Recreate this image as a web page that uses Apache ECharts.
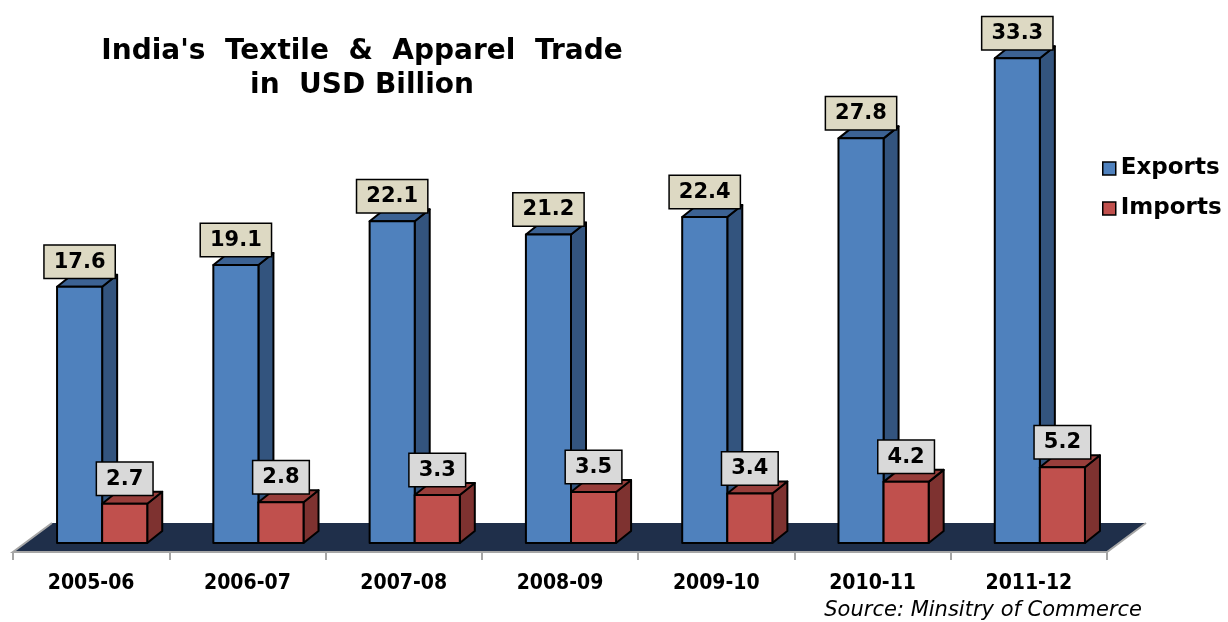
<!DOCTYPE html>
<html>
<head>
<meta charset="utf-8">
<script src="https://cdn.jsdelivr.net/npm/echarts@6/dist/echarts.min.js"></script>
<style>
  html, body { margin: 0; padding: 0; background: #ffffff; }
  #chart { width: 1228px; height: 622px; }
</style>
</head>
<body>
<div id="chart"></div>
<script>
// Fiscal years and trade values (USD billion)
const years = ['2005-06', '2006-07', '2007-08', '2008-09', '2009-10', '2010-11', '2011-12'];
const exportsBn = [17.6, 19.1, 22.1, 21.2, 22.4, 27.8, 33.3];
const importsBn = [2.7, 2.8, 3.3, 3.5, 3.4, 4.2, 5.2];

// Pseudo-3D geometry (pixels)
const BAR_FRACTION = 0.2885;  // bar width as share of a category band
const SHIFT_X = 11, SHIFT_Y = 9;   // bars stand a little behind the floor's front edge
const DEPTH_X = 15, DEPTH_Y = 12;  // bar depth
const FLOOR_DX = 39, FLOOR_DY = 29; // floor depth
const LABEL_GAP = 9;

const palettes = {
  Exports: { front: '#4f81bd', side: '#33547e', top: '#3c6293', label: '#ddd9c3' },
  Imports: { front: '#c0504d', side: '#7e3230', top: '#983e3b', label: '#d9d9d9' }
};

function barRenderer(slot, pal) {
  return function (params, api) {
    const i = api.value(0);
    const v = api.value(1);
    const band = api.size([1, 0])[0];
    const w = band * BAR_FRACTION;
    const base = api.coord([i, 0]);
    const top = api.coord([i, v]);
    const x0 = base[0] + SHIFT_X - (slot === 0 ? w : 0);
    const x1 = x0 + w;
    const yb = base[1] - SHIFT_Y;
    const yt = top[1] - SHIFT_Y;
    const edge = { stroke: '#000000', lineWidth: 2, lineJoin: 'round' };
    return {
      type: 'group',
      children: [
        { type: 'polygon', shape: { points: [[x1, yb], [x1 + DEPTH_X, yb - DEPTH_Y], [x1 + DEPTH_X, yt - DEPTH_Y], [x1, yt]] },
          style: Object.assign({ fill: pal.side }, edge) },
        { type: 'polygon', shape: { points: [[x0, yt], [x1, yt], [x1 + DEPTH_X, yt - DEPTH_Y], [x0 + DEPTH_X, yt - DEPTH_Y]] },
          style: Object.assign({ fill: pal.top }, edge) },
        { type: 'rect', shape: { x: x0, y: yt, width: w, height: yb - yt },
          style: Object.assign({ fill: pal.front }, edge) },
        { type: 'text', x: (x0 + x1) / 2, y: yt - LABEL_GAP, z2: 10,
          style: {
            text: v.toFixed(1),
            font: 'bold 21px "DejaVu Sans"',
            fill: '#000000',
            align: 'center',
            verticalAlign: 'bottom',
            backgroundColor: pal.label,
            borderColor: '#000000',
            borderWidth: 1.5,
            padding: [6, 9, 5, 9]
          } }
      ]
    };
  };
}

function floorRenderer(params, api) {
  const n = years.length;
  const band = api.size([1, 0])[0];
  const first = api.coord([0, 0]);
  const last = api.coord([n - 1, 0]);
  const L = first[0] - band / 2;
  const R = last[0] + band / 2;
  const y = first[1];
  return {
    type: 'group',
    children: [
      { type: 'polygon', shape: { points: [[L, y], [L + FLOOR_DX, y - FLOOR_DY], [R + FLOOR_DX, y - FLOOR_DY], [R, y]] },
        style: { fill: '#1f2f4a' } },
      { type: 'polyline', shape: { points: [[L + FLOOR_DX, y - FLOOR_DY], [L, y], [R, y], [R + FLOOR_DX, y - FLOOR_DY]] },
        style: { stroke: '#a6a6a6', lineWidth: 2, fill: null } }
    ]
  };
}

const chart = echarts.init(document.getElementById('chart'));
chart.setOption({
  animation: false,
  backgroundColor: '#ffffff',
  title: {
    text: "India's  Textile  &  Apparel  Trade\nin  USD Billion",
    left: 357,
    top: 30,
    textAlign: 'center',
    textStyle: { fontFamily: 'DejaVu Sans', fontWeight: 'bold', fontSize: 28, lineHeight: 34, color: '#000000' }
  },
  legend: {
    orient: 'vertical',
    left: 1097,
    top: 152,
    itemWidth: 13,
    itemHeight: 13,
    itemGap: 17,
    textStyle: { fontFamily: 'DejaVu Sans', fontWeight: 'bold', fontSize: 23, color: '#000000' },
    data: [
      { name: 'Exports', icon: 'rect', itemStyle: { color: palettes.Exports.front, borderColor: '#000000', borderWidth: 1.5 } },
      { name: 'Imports', icon: 'rect', itemStyle: { color: palettes.Imports.front, borderColor: '#000000', borderWidth: 1.5 } }
    ]
  },
  graphic: [{
    type: 'text',
    x: 1142,
    y: 611,
    style: {
      text: 'Source: Minsitry of Commerce',
      font: 'italic 21px "DejaVu Sans"',
      fill: '#000000',
      align: 'right',
      verticalAlign: 'middle'
    }
  }],
  grid: { left: 13, right: 121, top: 28, bottom: 70 },
  xAxis: {
    type: 'category',
    data: years,
    boundaryGap: true,
    axisLine: { show: false },
    axisTick: { show: true, length: 8, lineStyle: { color: '#a6a6a6', width: 2 } },
    axisLabel: { margin: 21, fontFamily: 'DejaVu Sans Condensed', fontWeight: 'bold', fontSize: 21, color: '#000000' }
  },
  yAxis: { type: 'value', min: 0, max: 36, show: false, splitLine: { show: false } },
  series: [
    { type: 'custom', name: 'floor', silent: true, renderItem: floorRenderer, data: [[0, 0]] },
    { type: 'custom', name: 'Exports', renderItem: barRenderer(0, palettes.Exports),
      itemStyle: { color: palettes.Exports.front },
      data: exportsBn.map((v, i) => [i, v]) },
    { type: 'custom', name: 'Imports', renderItem: barRenderer(1, palettes.Imports),
      itemStyle: { color: palettes.Imports.front },
      data: importsBn.map((v, i) => [i, v]) }
  ]
});
</script>
</body>
</html>
